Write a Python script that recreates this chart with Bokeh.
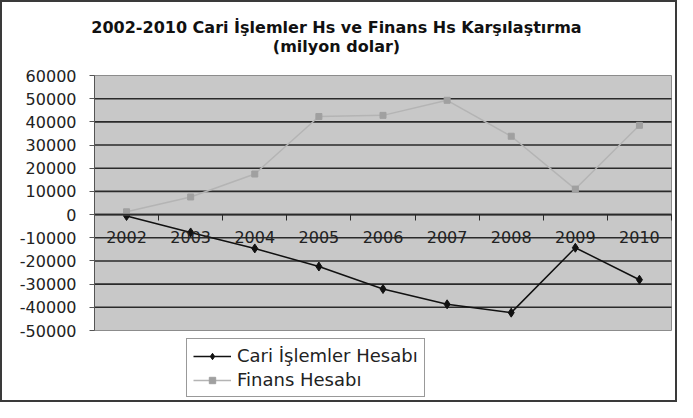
from bokeh.plotting import figure
from bokeh.models import Range1d, FixedTicker, Legend, LegendItem, Label
from bokeh.embed import file_html
from bokeh.resources import INLINE

# ---- data ----
years = ["2002", "2003", "2004", "2005", "2006", "2007", "2008", "2009", "2010"]
cari = [-600, -7700, -14600, -22400, -32100, -38700, -42300, -14300, -28100]
finans = [1200, 7600, 17500, 42300, 42800, 49300, 33800, 11000, 38500]
y_ticks = [-50000, -40000, -30000, -20000, -10000, 0, 10000, 20000, 30000, 40000, 50000, 60000]
y_tick_labels = ["-50000", "-40000", "-30000", "-20000", "-10000", "0",
                 "10000", "20000", "30000", "40000", "50000", "60000"]
title_lines = ["2002-2010 Cari İşlemler Hs ve Finans Hs Karşılaştırma", "(milyon dolar)"]
series_names = ["Cari İşlemler Hesabı", "Finans Hesabı"]

FONT = "DejaVu Sans"
W, H = 677, 402
# plot-area placement inside the canvas (pixels)
PL, PR, PT, PB = 94, 671, 75, 330

xs = list(range(1, len(years) + 1))
x_lo, x_hi = xs[0] - 0.5, xs[-1] + 0.5
y_lo, y_hi = y_ticks[0], y_ticks[-1]
xu = (PR - PL) / (x_hi - x_lo)
yu = (PB - PT) / (y_hi - y_lo)

p = figure(width=W, height=H, output_backend="svg", toolbar_location=None, title=None,
           x_range=Range1d(x_lo - PL / xu, x_hi + (W - PR) / xu),
           y_range=Range1d(y_lo - (H - PB) / yu, y_hi + PT / yu),
           min_border=0)
p.background_fill_color = "white"
p.border_fill_color = "white"
p.outline_line_color = "#3a3a3a"
p.outline_line_width = 3
p.xgrid.visible = False
p.ygrid.visible = False

# plot area
p.quad(left=[x_lo], right=[x_hi], bottom=[y_lo], top=[y_hi],
       fill_color="#c8c8c8", line_color="#8c8c8c", line_width=1)
# horizontal gridlines
inner = y_ticks[1:-1]
p.segment(x0=[x_lo] * len(inner), x1=[x_hi] * len(inner), y0=inner, y1=inner,
          line_color="#2a2a2a", line_width=1.6)

# y axis on plot-area left edge
ya = p.yaxis[0]
ya.fixed_location = x_lo
ya.bounds = (y_lo, y_hi)
ya.ticker = FixedTicker(ticks=y_ticks)
ya.major_label_overrides = {t: l for t, l in zip(y_ticks, y_tick_labels)}
ya.major_label_text_font = FONT
ya.major_label_text_font_size = "16px"
ya.major_label_text_color = "#222222"
ya.major_tick_in = 0
ya.major_tick_out = 5
ya.minor_tick_line_color = None
ya.axis_line_color = "#555555"
ya.major_tick_line_color = "#555555"
ya.major_label_standoff = 13

# x axis at zero
xa = p.xaxis[0]
xa.fixed_location = 0
xa.bounds = (x_lo, x_hi)
xa.ticker = FixedTicker(ticks=xs, minor_ticks=[x - 0.5 for x in xs] + [xs[-1] + 0.5])
xa.major_label_overrides = {x: y for x, y in zip(xs, years)}
xa.major_label_text_font = FONT
xa.major_label_text_font_size = "16px"
xa.major_label_text_color = "#222222"
xa.major_tick_line_color = None
xa.major_tick_in = 0
xa.major_tick_out = 0
xa.major_label_standoff = 10
xa.minor_tick_in = 0
xa.minor_tick_out = 6
xa.minor_tick_line_color = "#2a2a2a"
xa.axis_line_color = "#2a2a2a"
xa.axis_line_width = 1.6

# series
l1 = p.line(xs, cari, line_color="#111111", line_width=1.5)
m1 = p.scatter(xs, cari, marker="diamond", size=9, fill_color="#111111", line_color="#111111")
l2 = p.line(xs, finans, line_color="#b4b4b4", line_width=1.5)
m2 = p.scatter(xs, finans, marker="square", size=6, fill_color="#a0a0a0", line_color="#a0a0a0")

# title
for i, (t, yy) in enumerate(zip(title_lines, [H - 27, H - 46])):
    p.add_layout(Label(x=336, y=yy, x_units="screen", y_units="screen", text=t,
                       text_font=FONT, text_font_style="bold", text_font_size="16px",
                       text_color="#111111", text_align="center", text_baseline="middle"))

legend = Legend(items=[LegendItem(label=series_names[0], renderers=[l1, m1]),
                       LegendItem(label=series_names[1], renderers=[l2, m2])],
                location=(186, H - 397), orientation="vertical",
                border_line_color="#333333", border_line_width=1.5,
                background_fill_color="white", background_fill_alpha=1,
                label_text_font=FONT, label_text_font_size="18px", label_text_color="#222222",
                glyph_width=38, glyph_height=16, label_standoff=6, label_height=19,
                spacing=3, padding=6, margin=0)
p.add_layout(legend, "center")

open("out.html", "w").write(file_html(p, INLINE))
